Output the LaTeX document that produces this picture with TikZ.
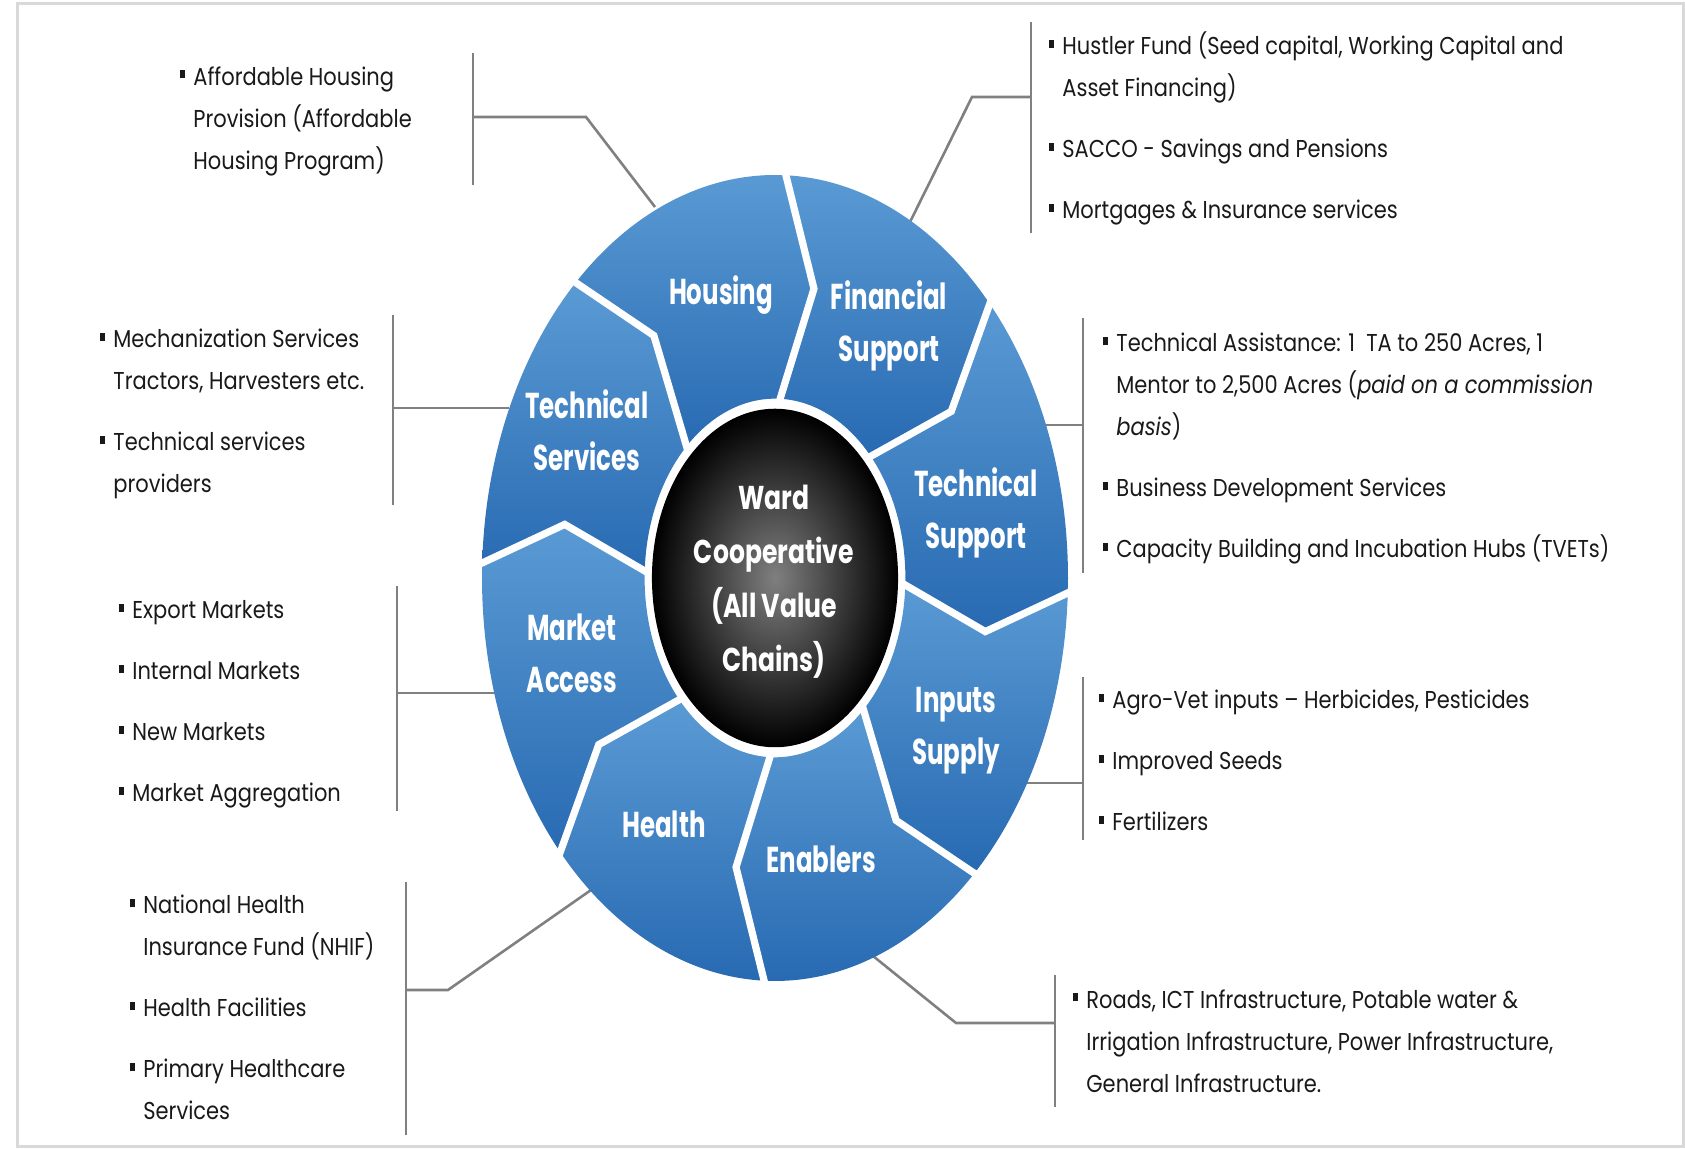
\documentclass[tikz,border=0pt]{standalone}
\usepackage{fontspec}
\newfontfamily\gothic[FakeStretch=0.68]{Poppins}
\newfontfamily\gothicb[FakeStretch=0.86]{Poppins}
\newfontfamily\gothicc[FakeStretch=0.76]{Poppins}
\definecolor{bl}{RGB}{90,154,212}
\definecolor{bd}{RGB}{40,106,178}
\definecolor{conncol}{RGB}{128,128,128}
\definecolor{txt}{RGB}{25,25,25}
\newcommand{\bul}{\leavevmode\llap{\rule[3.3pt]{2.5pt}{4pt}\hspace{4pt}}}
\begin{document}
\begin{tikzpicture}[x=0.5pt,y=0.5pt,
  blk/.style={anchor=north west, inner sep=0pt, align=left, text=txt,
    font=\gothicb\fontsize{12.2pt}{21pt}\selectfont},
  lbl/.style={inner sep=0pt, align=center, text=white,
    font=\gothic\bfseries\fontsize{18pt}{26pt}\selectfont},
  ctr/.style={inner sep=0pt, align=center, text=white,
    font=\gothicc\bfseries\fontsize{16.5pt}{27pt}\selectfont},
  conn/.style={draw=conncol, line width=1.3pt},
  gap/.style={draw=white, line width=3.6pt, line join=miter}]
\useasboundingbox (0,0) rectangle (1685,1149);
\draw[black!15, line width=1.5pt] (17,2) rectangle (1683,1145);

% ---------- connectors ----------
\coordinate (hT) at (473,1096); \coordinate (hB) at (473,964);
\coordinate (hM) at (473,1032); \coordinate (hK) at (586,1032); \coordinate (hW) at (655,942);
\draw[conn] (hT) -- (hB); \draw[conn] (hM) -- (hK) -- (hW);

\coordinate (fT) at (1031,1127); \coordinate (fB) at (1031,916);
\coordinate (fM) at (1031,1052); \coordinate (fK) at (972,1052); \coordinate (fW) at (910,927);
\draw[conn] (fT) -- (fB); \draw[conn] (fM) -- (fK) -- (fW);

\coordinate (tsT) at (393,834); \coordinate (tsB) at (393,644);
\coordinate (tsM) at (393,741); \coordinate (tsW) at (509,741);
\draw[conn] (tsT) -- (tsB); \draw[conn] (tsM) -- (tsW);

\coordinate (tpT) at (1083,831); \coordinate (tpB) at (1083,576);
\coordinate (tpM) at (1083,724); \coordinate (tpW) at (1044,724);
\draw[conn] (tpT) -- (tpB); \draw[conn] (tpM) -- (tpW);

\coordinate (mT) at (397,563); \coordinate (mB) at (397,338);
\coordinate (mM) at (397,456); \coordinate (mW) at (495,456);
\draw[conn] (mT) -- (mB); \draw[conn] (mM) -- (mW);

\coordinate (iT) at (1083,472); \coordinate (iB) at (1083,309);
\coordinate (iM) at (1083,366); \coordinate (iW) at (1025,366);
\draw[conn] (iT) -- (iB); \draw[conn] (iM) -- (iW);

\coordinate (heT) at (406,267); \coordinate (heB) at (406,14);
\coordinate (heM) at (406,159); \coordinate (heK) at (448,159); \coordinate (heW) at (591,259);
\draw[conn] (heT) -- (heB); \draw[conn] (heM) -- (heK) -- (heW);

\coordinate (eT) at (1055,174); \coordinate (eB) at (1055,42);
\coordinate (eM) at (1055,126); \coordinate (eK) at (956,126); \coordinate (eW) at (873,193);
\draw[conn] (eT) -- (eB); \draw[conn] (eM) -- (eK) -- (eW);

% ---------- wheel ----------
\begin{scope}[shift={(775,571)}, xscale=293, yscale=403]
  \foreach \a in {88.5,43.5,-1.5,-46.5,-91.5,-136.5,-181.5,-226.5}{
    \shade[top color=bl, bottom color=bd]
      (\a:1) arc[start angle=\a, end angle=\a-45, radius=1]
      -- (\a-54:0.73) -- (\a-45:0.445)
      arc[start angle=\a-45, end angle=\a, radius=0.445]
      -- (\a-9:0.73) -- cycle;
  }
  \foreach \a in {88.5,43.5,-1.5,-46.5,-91.5,-136.5,-181.5,-226.5}{
    \draw[gap] (\a:0.43) -- (\a-9:0.73) -- (\a:1.03);
  }
  \shade[inner color=black!50, outer color=black] (0,0) circle[radius=0.42];
\end{scope}

% ---------- wheel labels ----------
\node[ctr] (ward) at (774,567) {Ward\\Cooperative\\(All Value\\Chains)};
\node[lbl] (housing) at (721,854) {Housing};
\node[lbl] (fin) at (889,823) {Financial\\Support};
\node[lbl] (tserv) at (587,719) {Technical\\Services};
\node[lbl] (tsup) at (976,636) {Technical\\Support};
\node[lbl] (market) at (572,496) {Market\\Access};
\node[lbl] (inputs) at (956,418) {Inputs\\Supply};
\node[lbl] (health) at (664,325) {Health};
\node[lbl] (enab) at (821,290) {Enablers};

% ---------- text blocks ----------
\node[blk] (tHousing) at (193,1083) {\bul Affordable Housing\\Provision (Affordable\\Housing Program)};
\node[blk] (tFin) at (1062,1118) {\bul Hustler Fund (Seed capital, Working Capital and\\Asset Financing)\\[9.5pt]\bul SACCO - Savings and Pensions\\[9.5pt]\bul Mortgages \& Insurance services};
\node[blk] (tServ) at (113,820) {\bul Mechanization Services\\Tractors, Harvesters etc.\\[9.5pt]\bul Technical services\\providers};
\node[blk] (tSup) at (1116,816) {\bul Technical Assistance: 1~~TA to 250 Acres, 1\\Mentor to 2,500 Acres ({\itshape paid on a commission}\\{\itshape basis})\\[9.5pt]\bul Business Development Services\\[9.5pt]\bul Capacity Building and Incubation Hubs (TVETs)};
\node[blk] (tMarket) at (132,549) {\bul Export Markets\\[9.5pt]\bul Internal Markets\\[9.5pt]\bul New Markets\\[9.5pt]\bul Market Aggregation};
\node[blk] (tInputs) at (1112,459) {\bul Agro-Vet inputs – Herbicides, Pesticides\\[9.5pt]\bul Improved Seeds\\[9.5pt]\bul Fertilizers};
\node[blk] (tHealth) at (143,254) {\bul National Health\\Insurance Fund (NHIF)\\[9.5pt]\bul Health Facilities\\[9.5pt]\bul Primary Healthcare\\Services};
\node[blk] (tEnab) at (1086,160) {\bul Roads, ICT Infrastructure, Potable water \&\\Irrigation Infrastructure, Power Infrastructure,\\General Infrastructure.};
\end{tikzpicture}
\end{document}
